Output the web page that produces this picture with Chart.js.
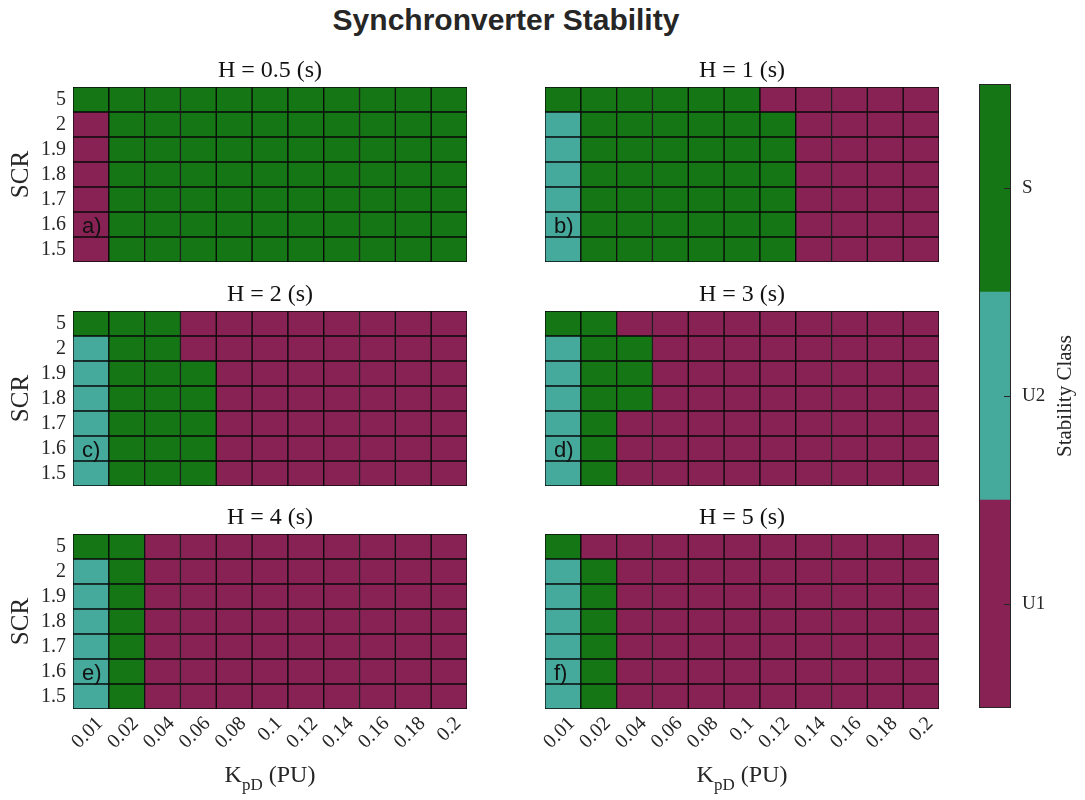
<!DOCTYPE html>
<html>
<head>
<meta charset="utf-8">
<script src="https://cdn.jsdelivr.net/npm/chart.js@4/dist/chart.umd.min.js"></script>
<style>
  html, body { margin: 0; padding: 0; background: #fff; }
  #wrap { position: relative; width: 1085px; height: 800px; overflow: hidden; }
  #wrap canvas { position: absolute; }
  #title {
    position: absolute; left: 0; top: 2px; width: 1012px; text-align: center;
    font: bold 30px "Liberation Sans", Arial, sans-serif; line-height: 36px; color: #262626;
  }
</style>
</head>
<body>
<div id="wrap"><div id="title">Synchronverter Stability</div></div>
<script>
// Damping gain K_pD (x axis) and short-circuit ratio SCR (y axis, bottom to top)
const kpdLabels = ['0.01', '0.02', '0.04', '0.06', '0.08', '0.1', '0.12', '0.14', '0.16', '0.18', '0.2'];
const scrLabels = ['1.5', '1.6', '1.7', '1.8', '1.9', '2', '5'];

// Stability classes: 0 = U1, 1 = U2, 2 = S
const classNames = ['U1', 'U2', 'S'];
const classColors = ['#882255', '#45AA9B', '#147614'];

// Class of each cell, one row per SCR value (1.5 first, 5 last), one column per K_pD
const stabH05 = [
  [0, 2, 2, 2, 2, 2, 2, 2, 2, 2, 2],
  [0, 2, 2, 2, 2, 2, 2, 2, 2, 2, 2],
  [0, 2, 2, 2, 2, 2, 2, 2, 2, 2, 2],
  [0, 2, 2, 2, 2, 2, 2, 2, 2, 2, 2],
  [0, 2, 2, 2, 2, 2, 2, 2, 2, 2, 2],
  [0, 2, 2, 2, 2, 2, 2, 2, 2, 2, 2],
  [2, 2, 2, 2, 2, 2, 2, 2, 2, 2, 2]
];
const stabH1 = [
  [1, 2, 2, 2, 2, 2, 2, 0, 0, 0, 0],
  [1, 2, 2, 2, 2, 2, 2, 0, 0, 0, 0],
  [1, 2, 2, 2, 2, 2, 2, 0, 0, 0, 0],
  [1, 2, 2, 2, 2, 2, 2, 0, 0, 0, 0],
  [1, 2, 2, 2, 2, 2, 2, 0, 0, 0, 0],
  [1, 2, 2, 2, 2, 2, 2, 0, 0, 0, 0],
  [2, 2, 2, 2, 2, 2, 0, 0, 0, 0, 0]
];
const stabH2 = [
  [1, 2, 2, 2, 0, 0, 0, 0, 0, 0, 0],
  [1, 2, 2, 2, 0, 0, 0, 0, 0, 0, 0],
  [1, 2, 2, 2, 0, 0, 0, 0, 0, 0, 0],
  [1, 2, 2, 2, 0, 0, 0, 0, 0, 0, 0],
  [1, 2, 2, 2, 0, 0, 0, 0, 0, 0, 0],
  [1, 2, 2, 0, 0, 0, 0, 0, 0, 0, 0],
  [2, 2, 2, 0, 0, 0, 0, 0, 0, 0, 0]
];
const stabH3 = [
  [1, 2, 0, 0, 0, 0, 0, 0, 0, 0, 0],
  [1, 2, 0, 0, 0, 0, 0, 0, 0, 0, 0],
  [1, 2, 0, 0, 0, 0, 0, 0, 0, 0, 0],
  [1, 2, 2, 0, 0, 0, 0, 0, 0, 0, 0],
  [1, 2, 2, 0, 0, 0, 0, 0, 0, 0, 0],
  [1, 2, 2, 0, 0, 0, 0, 0, 0, 0, 0],
  [2, 2, 0, 0, 0, 0, 0, 0, 0, 0, 0]
];
const stabH4 = [
  [1, 2, 0, 0, 0, 0, 0, 0, 0, 0, 0],
  [1, 2, 0, 0, 0, 0, 0, 0, 0, 0, 0],
  [1, 2, 0, 0, 0, 0, 0, 0, 0, 0, 0],
  [1, 2, 0, 0, 0, 0, 0, 0, 0, 0, 0],
  [1, 2, 0, 0, 0, 0, 0, 0, 0, 0, 0],
  [1, 2, 0, 0, 0, 0, 0, 0, 0, 0, 0],
  [2, 2, 0, 0, 0, 0, 0, 0, 0, 0, 0]
];
const stabH5 = [
  [1, 2, 0, 0, 0, 0, 0, 0, 0, 0, 0],
  [1, 2, 0, 0, 0, 0, 0, 0, 0, 0, 0],
  [1, 2, 0, 0, 0, 0, 0, 0, 0, 0, 0],
  [1, 2, 0, 0, 0, 0, 0, 0, 0, 0, 0],
  [1, 2, 0, 0, 0, 0, 0, 0, 0, 0, 0],
  [1, 2, 0, 0, 0, 0, 0, 0, 0, 0, 0],
  [2, 0, 0, 0, 0, 0, 0, 0, 0, 0, 0]
];

const panelTitles = ['H = 0.5 (s)', 'H = 1 (s)', 'H = 2 (s)', 'H = 3 (s)', 'H = 4 (s)', 'H = 5 (s)'];
const panelTags = ['a)', 'b)', 'c)', 'd)', 'e)', 'f)'];
const panelGrids = [stabH05, stabH1, stabH2, stabH3, stabH4, stabH5];

const SERIF = '"Liberation Serif", "Times New Roman", serif';
const SANS = '"Liberation Sans", Arial, sans-serif';
const INK = '#262626';

// layout of the 3 x 2 grid of heatmaps
const AXIS_W = 73, PLOT_W = 394, PLOT_H = 175, TOP_PAD = 40, RIGHT_PAD = 12;
const colLeft = [0, 472];
const plotTop = [87, 311, 534];

const wrap = document.getElementById('wrap');

function addCanvas(left, top, w, h) {
  const c = document.createElement('canvas');
  c.width = w; c.height = h;
  c.style.left = left + 'px'; c.style.top = top + 'px';
  c.style.width = w + 'px'; c.style.height = h + 'px';
  wrap.appendChild(c);
  return c;
}

// titles, panel letter and K_pD axis label drawn around each heatmap
const panelText = {
  id: 'panelText',
  afterDraw(chart, args, opts) {
    const { ctx, chartArea: a, scales } = chart;
    ctx.save();
    ctx.fillStyle = '#111';
    ctx.textAlign = 'center';
    ctx.textBaseline = 'alphabetic';
    ctx.font = '24px ' + SERIF;
    ctx.fillText(opts.title, (a.left + a.right) / 2, a.top - 10);

    ctx.textAlign = 'left';
    ctx.textBaseline = 'middle';
    ctx.font = '22px ' + SANS;
    ctx.fillText(opts.tag, a.left + 9, scales.y.getPixelForValue(1.5) + 2);

    if (opts.xTitle) {
      const big = '24px ' + SERIF, small = '17px ' + SERIF;
      ctx.textBaseline = 'alphabetic';
      ctx.font = big; const wK = ctx.measureText('K').width;
      const wP = ctx.measureText(' (PU)').width;
      ctx.font = small; const wS = ctx.measureText('pD').width;
      let x = (a.left + a.right) / 2 - (wK + wS + wP) / 2;
      const y = a.bottom + 73;
      ctx.fillStyle = INK;
      ctx.font = big; ctx.fillText('K', x, y); x += wK;
      ctx.font = small; ctx.fillText('pD', x, y + 8); x += wS;
      ctx.font = big; ctx.fillText(' (PU)', x, y);
    }
    ctx.restore();
  }
};

function makePanel(idx) {
  const col = idx % 2, row = Math.floor(idx / 2);
  const bottomRow = row === 2;
  const bottomSpace = bottomRow ? 800 - (plotTop[row] + PLOT_H) : 4;
  const w = AXIS_W + PLOT_W + RIGHT_PAD;
  const h = TOP_PAD + PLOT_H + bottomSpace;
  const canvas = addCanvas(colLeft[col], plotTop[row] - TOP_PAD, w, h);
  const grid = panelGrids[idx];

  const datasets = scrLabels.map((scr, ri) => ({
    label: 'SCR ' + scr,
    data: kpdLabels.map(() => [ri, ri + 1]),
    backgroundColor: grid[ri].map(c => classColors[c]),
    borderColor: '#0a0a0a',
    borderWidth: 1,
    borderSkipped: false,
    grouped: false,
    barPercentage: 1,
    categoryPercentage: 1
  }));

  new Chart(canvas, {
    type: 'bar',
    data: { labels: kpdLabels, datasets },
    plugins: [panelText],
    options: {
      responsive: false,
      animation: false,
      devicePixelRatio: 1,
      layout: { padding: { left: 0, top: TOP_PAD, right: RIGHT_PAD, bottom: 0 } },
      plugins: {
        legend: { display: false },
        tooltip: { enabled: false },
        panelText: { title: panelTitles[idx], tag: panelTags[idx], xTitle: bottomRow }
      },
      scales: {
        x: {
          type: 'category',
          grid: { display: false, drawTicks: false },
          border: { display: false },
          ticks: {
            display: bottomRow,
            color: INK, font: { family: SERIF, size: 20 },
            minRotation: 45, maxRotation: 45, padding: 3, labelOffset: 9, autoSkip: false
          },
          afterFit: s => { s.height = bottomSpace; s.paddingLeft = 0; s.paddingRight = 0; }
        },
        y: {
          type: 'linear', min: 0, max: scrLabels.length,
          grid: { display: false, drawTicks: false },
          border: { display: false },
          afterBuildTicks: s => { s.ticks = scrLabels.map((_, i) => ({ value: i + 0.5 })); },
          ticks: {
            display: col === 0,
            color: INK, font: { family: SERIF, size: 20 }, padding: 7,
            callback: v => scrLabels[Math.round(v - 0.5)]
          },
          title: {
            display: col === 0, text: 'SCR', color: INK,
            font: { family: SERIF, size: 25 }, padding: { top: 6, bottom: 0 }
          },
          afterFit: s => { s.width = AXIS_W; s.paddingTop = 0; s.paddingBottom = 0; }
        }
      }
    }
  });
}

for (let i = 0; i < 6; i++) makePanel(i);

// colour bar with the three stability classes
const cbText = {
  id: 'cbText',
  afterDraw(chart) {
    const { ctx, chartArea: a, scales } = chart;
    ctx.save();
    ctx.strokeStyle = '#262626';
    ctx.lineWidth = 1;
    ctx.strokeRect(a.left + 0.5, a.top + 0.5, a.right - a.left - 1, a.bottom - a.top - 1);
    scales.y.ticks.forEach(t => {
      const y = Math.round(scales.y.getPixelForValue(t.value)) + 0.5;
      ctx.beginPath(); ctx.moveTo(a.right - 7, y); ctx.lineTo(a.right, y); ctx.stroke();
    });
    ctx.translate(a.right + 54, (a.top + a.bottom) / 2);
    ctx.rotate(-Math.PI / 2);
    ctx.fillStyle = INK;
    ctx.font = '21px ' + SERIF;
    ctx.textAlign = 'center';
    ctx.textBaseline = 'middle';
    ctx.fillText('Stability Class', 0, 0);
    ctx.restore();
  }
};

const cbCanvas = addCanvas(940, 40, 145, 700);
new Chart(cbCanvas, {
  type: 'bar',
  data: {
    labels: [''],
    datasets: classNames.map((name, k) => ({
      label: name,
      data: [[k, k + 1]],
      backgroundColor: classColors[k],
      borderWidth: 0,
      grouped: false,
      barPercentage: 1,
      categoryPercentage: 1
    }))
  },
  plugins: [cbText],
  options: {
    responsive: false,
    animation: false,
    devicePixelRatio: 1,
    layout: { padding: { left: 39, top: 44, right: 0, bottom: 32 } },
    plugins: { legend: { display: false }, tooltip: { enabled: false } },
    scales: {
      x: { display: false },
      y: {
        type: 'linear', position: 'right', min: 0, max: classNames.length,
        grid: { display: false, drawTicks: false },
        border: { display: false },
        afterBuildTicks: s => { s.ticks = classNames.map((_, k) => ({ value: k + 0.5 })); },
        ticks: {
          color: INK, font: { family: SERIF, size: 19 }, padding: 11,
          callback: v => classNames[Math.round(v - 0.5)]
        },
        afterFit: s => { s.width = 74; s.paddingTop = 0; s.paddingBottom = 0; }
      }
    }
  }
});
</script>
</body>
</html>
